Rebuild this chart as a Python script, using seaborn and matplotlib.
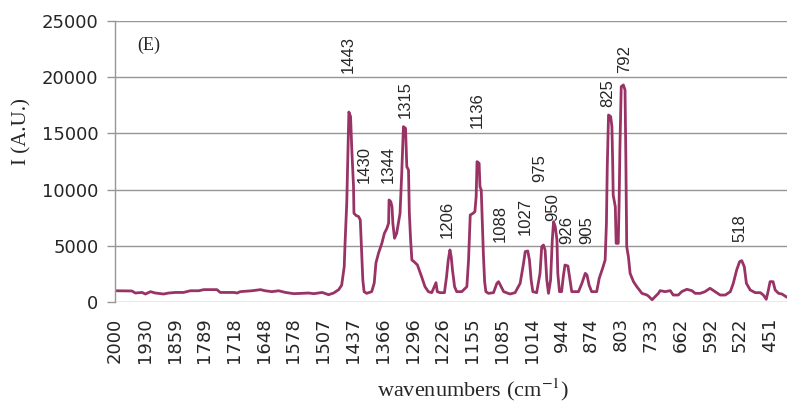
import pandas as pd
import matplotlib
matplotlib.use('Agg')
import matplotlib.pyplot as plt
import seaborn as sns

# spectrum (wavenumber cm-1, intensity A.U.)
wavenumber = [
    2000, 1960, 1952, 1936, 1928, 1916, 1905, 1885, 1873, 1857, 1838, 1822,
    1802, 1790, 1759, 1751, 1719, 1711, 1704, 1676, 1656, 1645, 1629, 1613,
    1597, 1577, 1542, 1530, 1510, 1495, 1483, 1471, 1464, 1458, 1456, 1452,
    1449, 1447, 1443, 1440, 1436, 1435, 1430, 1424, 1420, 1417, 1414, 1411,
    1405, 1393, 1387, 1383, 1377, 1369, 1363, 1357, 1353, 1352, 1348, 1345,
    1343, 1339, 1334, 1330, 1326, 1322, 1318, 1313, 1310, 1306, 1304, 1301,
    1298, 1293, 1285, 1275, 1267, 1259, 1251, 1245, 1241, 1238, 1231, 1221,
    1216, 1212, 1208, 1205, 1202, 1197, 1192, 1180, 1168, 1164, 1160, 1153,
    1149, 1146, 1144, 1139, 1137, 1134, 1131, 1129, 1126, 1123, 1117, 1105,
    1097, 1093, 1087, 1081, 1066, 1054, 1042, 1034, 1030, 1024, 1020, 1016,
    1012, 1003, 995, 991, 987, 983, 979, 975, 970, 966, 963, 959,
    955, 953, 949, 944, 940, 936, 929, 924, 920, 904, 896, 888,
    884, 879, 873, 861, 855, 847, 841, 838, 836, 833, 828, 825,
    823, 822, 817, 815, 810, 808, 806, 803, 798, 794, 792, 790,
    786, 782, 774, 766, 754, 742, 738, 730, 723, 715, 711, 699,
    687, 680, 668, 660, 648, 636, 628, 616, 605, 593, 581, 569,
    557, 545, 538, 530, 523, 518, 512, 507, 498, 486, 474, 467,
    460, 455, 451, 444, 439, 431, 423, 411,
]
intensity = [
    1000, 980, 800, 850, 710, 920, 800, 710, 800, 850, 850, 1000,
    1000, 1100, 1100, 850, 850, 800, 920, 1000, 1100, 1000, 920, 1000,
    850, 740, 800, 740, 850, 650, 800, 1100, 1500, 3140, 5250, 8800,
    13500, 16900, 16500, 13500, 10260, 7900, 7700, 7600, 7300, 4600, 1960, 920,
    770, 920, 1690, 3470, 4330, 5220, 6110, 6560, 7030, 9080, 8930, 8480,
    7000, 5670, 6110, 7000, 7890, 11450, 15600, 15450, 12040, 11750, 7900, 5520,
    3740, 3590, 3300, 2250, 1360, 920, 830, 1360, 1720, 920, 830, 830,
    2250, 3740, 4630, 4030, 2850, 1360, 920, 920, 1360, 3740, 7740, 7900,
    8040, 9370, 12490, 12340, 10260, 9970, 6700, 4330, 1810, 920, 770, 830,
    1660, 1810, 1360, 920, 710, 830, 1660, 3440, 4480, 4540, 3740, 1960,
    920, 830, 2550, 4920, 5070, 4630, 1960, 770, 1960, 5520, 7150, 6700,
    5520, 2550, 920, 920, 2250, 3290, 3200, 1960, 920, 920, 1660, 2550,
    2400, 1510, 920, 920, 2110, 3000, 3740, 7000, 12040, 16640, 16500, 15600,
    12040, 9520, 8480, 5220, 5220, 8780, 13820, 19160, 19310, 18870, 12640, 4920,
    4030, 2550, 1810, 1360, 770, 620, 500, 200, 470, 770, 1010, 920,
    1010, 620, 620, 920, 1130, 1010, 770, 770, 920, 1220, 920, 620,
    620, 920, 1660, 2850, 3590, 3680, 3140, 1660, 1070, 830, 830, 620,
    240, 1070, 1810, 1810, 1070, 770, 710, 420,
]

tick_values = [2000, 1930, 1859, 1789, 1718, 1648, 1578, 1507, 1437, 1366,
               1296, 1226, 1155, 1085, 1014, 944, 874, 803, 733, 662, 592,
               522, 451]

peak_labels = ['1443', '1430', '1344', '1315', '1136', '975', '950', '926',
               '905', '1088', '1027', '1206', '825', '792', '518']
# where each rotated label sits (x in cm-1, bottom of text in A.U.)
label_x = [1449, 1411, 1354, 1314, 1144, 995, 964, 931, 884, 1089, 1030,
           1215, 834, 794, 522]
label_y = [20380, 10590, 10590, 16380, 15490, 10680, 7210, 5160, 5160, 5340,
           5960, 5700, 17360, 20380, 5340]

df = pd.DataFrame({'wn': wavenumber, 'I': intensity})

sns.set_style('white')
plt.rcParams['font.family'] = ['DejaVu Sans']
plt.rcParams['mathtext.fontset'] = 'stix'

fig = plt.figure(figsize=(7.87, 4.05), dpi=100)
ax = fig.add_axes([115 / 787, 1 - 302 / 405, 672 / 787, 281 / 405])

sns.lineplot(data=df, x='wn', y='I', ax=ax, color='#993366', linewidth=2.0,
             estimator=None, sort=False)

ax.set_xlim(2000, 411)
ax.set_ylim(0, 25000)
ax.set_yticks(range(0, 25001, 5000))
ax.set_xticks(tick_values)
ax.set_xticklabels([str(t) for t in tick_values], rotation=90)

ax.grid(axis='y', color='#969696', linewidth=1.0)
ax.grid(axis='x', visible=False)
for side in ['top', 'right', 'bottom']:
    ax.spines[side].set_visible(False)
ax.spines['left'].set_color('#969696')
ax.spines['left'].set_linewidth(1.0)

ax.tick_params(axis='y', length=6, width=1.0, color='#969696', pad=6,
               labelsize=13, left=True)
ax.tick_params(axis='x', length=0, pad=11, labelsize=13)

ax.set_xlabel('wavenumbers (cm$^{-1}$)', family='Liberation Serif', fontsize=16)
ax.set_ylabel('I (A.U.)', family='Liberation Serif', fontsize=15)
ax.xaxis.set_label_coords(0.533, -0.313)
ax.yaxis.set_label_coords(-0.138, 0.605)
ax.xaxis.label.set_va('center')
ax.yaxis.label.set_va('center')

for lab, lx, ly in zip(peak_labels, label_x, label_y):
    ax.text(lx, ly, lab, rotation=90, ha='center', va='bottom',
            family='Liberation Sans', fontsize=12)

ax.text(0.05, 0.915, '(E)', transform=ax.transAxes, ha='center', va='center',
        family='Liberation Serif', fontsize=13)

fig.savefig('out.png', dpi=100)
